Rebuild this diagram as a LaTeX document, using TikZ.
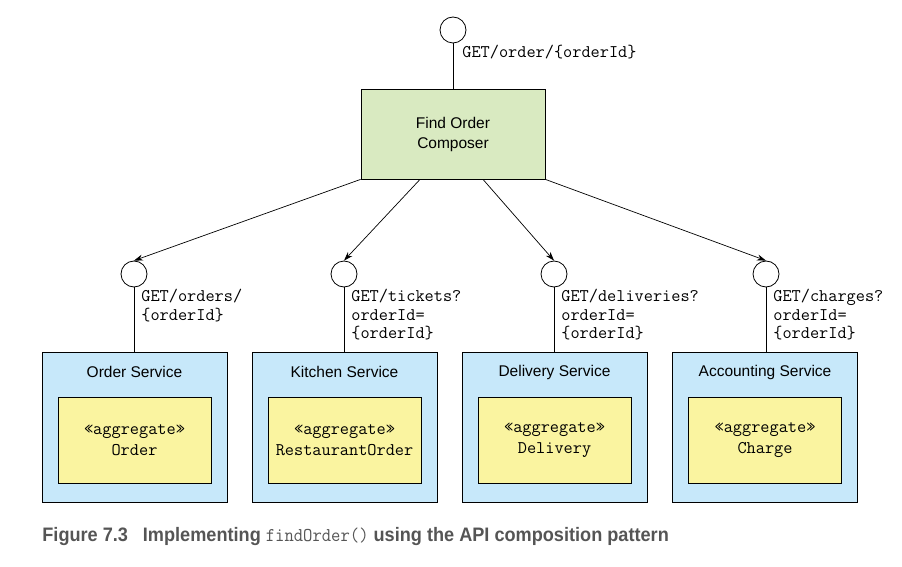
\documentclass[tikz,border=0pt]{standalone}
\usepackage{fontspec}
\setmainfont{Liberation Sans}
\setsansfont{Liberation Sans}
\usetikzlibrary{arrows.meta,calc}
\definecolor{compgreen}{RGB}{217,234,193}
\definecolor{servblue}{RGB}{199,232,250}
\definecolor{aggyellow}{RGB}{250,244,160}
\definecolor{captgray}{RGB}{85,85,85}
\begin{document}
\begin{tikzpicture}[x=1pt,y=-1pt,line width=0.8pt,
  iface/.style={circle,draw,fill=white,minimum size=26pt,inner sep=0pt},
  composer/.style={draw,fill=compgreen,minimum width=184pt,minimum height=90pt,inner sep=0pt,
     align=center,font=\fontsize{15.5}{20}\selectfont},
  service/.style={draw,fill=servblue,minimum width=185pt,minimum height=150pt,inner sep=0pt},
  agg/.style={draw,fill=aggyellow,minimum width=153pt,minimum height=86pt,inner sep=0pt,
     align=center,font=\fontsize{17.8}{21}\selectfont\ttfamily},
  stitle/.style={font=\fontsize{15.5}{18}\selectfont,inner sep=0pt},
  api/.style={anchor=north west,align=left,inner sep=0pt,font=\fontsize{17.8}{18.5}\selectfont\ttfamily},
  call/.style={-{Stealth[length=9pt,width=6pt]},line width=0.7pt}]
\useasboundingbox (0,0) rectangle (902,567);
% top interface
\node[iface] (top) at (453,30) {};
\node[composer] (comp) at (453,134) {Find Order\\Composer};
\draw (top) -- (comp);
\node[api] (toplbl) at (462,45) {GET/order/\{orderId\}};
% services
\foreach \n/\x/\cx/\title/\agg/\lbl in {
  s1/134.5/134/Order Service/Order/{GET/orders/\\\{orderId\}},
  s2/344.5/344/Kitchen Service/RestaurantOrder/{GET/tickets?\\orderId=\\\{orderId\}},
  s3/554.5/554/Delivery Service/Delivery/{GET/deliveries?\\orderId=\\\{orderId\}},
  s4/765/766/Accounting Service/Charge/{GET/charges?\\orderId=\\\{orderId\}}}{
  \node[service] (\n) at (\x,427) {};
  \node[stitle] (\n t) at (\x,372) {\title};
  \node[agg] (\n a) at (\x,440) {«aggregate»\\\agg};
  \node[iface] (\n c) at (\cx,274) {};
  \draw (\n c) -- (\n c |- \n.north);
  \node[api] (\n l) at ($(\n c)+(7,15)$) {\lbl};
}
% calls
\coordinate (o1) at (comp.south west);
\coordinate (o2) at ($(comp.south)+(-33,0)$);
\coordinate (o3) at ($(comp.south)+(30,0)$);
\coordinate (o4) at (comp.south east);
\draw[call] (o1) -- (s1c.north);
\draw[call] (o2) -- (s2c.north);
\draw[call] (o3) -- (s3c.north);
\draw[call] (o4) -- (s4c.north);
% caption
\node[anchor=west,inner sep=0pt,text=captgray] (cap) at (42,536)
 {\scalebox{0.93}[1]{\fontsize{19.5}{22}\selectfont\bfseries Figure 7.3\hspace{16pt}Implementing \mdseries\ttfamily findOrder()\bfseries\sffamily{} using the API composition pattern}};
\end{tikzpicture}
\end{document}
